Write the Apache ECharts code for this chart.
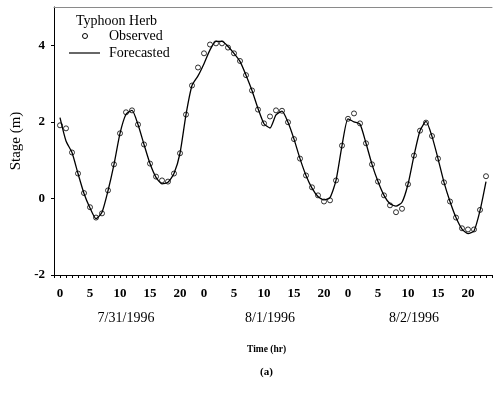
<!DOCTYPE html>
<html>
<head>
<meta charset="utf-8">
<script src="https://cdn.jsdelivr.net/npm/echarts@6/dist/echarts.min.js"></script>
<style>
  html, body { margin: 0; padding: 0; background: #fff; }
  #chart { width: 494px; height: 401px; }
</style>
</head>
<body>
<div id="chart"></div>
<script>
// Hourly stages (m) at the gauge during Typhoon Herb, hour 0 = 0:00 on 7/31/1996
const observed = [
  1.91, 1.83, 1.20, 0.65, 0.14, -0.23, -0.50, -0.39, 0.21, 0.89,
  1.70, 2.25, 2.30, 1.93, 1.41, 0.91, 0.57, 0.47, 0.44, 0.65,
  1.18, 2.19, 2.95, 3.42, 3.79, 4.02, 4.05, 4.05, 3.94, 3.79,
  3.59, 3.22, 2.82, 2.32, 1.96, 2.14, 2.30, 2.29, 1.99, 1.55,
  1.04, 0.60, 0.29, 0.08, -0.08, -0.05, 0.47, 1.38, 2.08, 2.22,
  1.96, 1.44, 0.89, 0.44, 0.08, -0.18, -0.36, -0.27, 0.37, 1.12,
  1.77, 1.98, 1.63, 1.04, 0.42, -0.08, -0.50, -0.78, -0.81, -0.81,
  -0.30, 0.58
];
const forecasted = [
  2.11, 1.50, 1.20, 0.65, 0.13, -0.25, -0.53, -0.36, 0.20, 0.89,
  1.70, 2.20, 2.30, 1.93, 1.41, 0.91, 0.55, 0.38, 0.42, 0.65,
  1.18, 2.19, 2.95, 3.20, 3.52, 3.88, 4.10, 4.10, 3.97, 3.79,
  3.58, 3.22, 2.82, 2.35, 1.95, 1.84, 2.18, 2.28, 1.99, 1.55,
  1.04, 0.60, 0.27, 0.05, -0.04, 0.02, 0.47, 1.38, 2.08, 2.00,
  1.94, 1.44, 0.89, 0.44, 0.08, -0.14, -0.20, -0.10, 0.37, 1.12,
  1.77, 2.01, 1.62, 1.04, 0.42, -0.08, -0.50, -0.80, -0.92, -0.85,
  -0.32, 0.44
];
const dayLabels = ['7/31/1996', '8/1/1996', '8/2/1996'];
const hourTicks = [0, 5, 10, 15, 20];
const stageTicks = [-2, 0, 2, 4];

const FONT = 'Liberation Serif';
const toPairs = arr => arr.map((v, h) => [h, v]);

const chart = echarts.init(document.getElementById('chart'), null, { renderer: 'canvas' });

const baseX = {
  type: 'value', min: -1, max: 72, interval: 1,
  splitLine: { show: false }
};

chart.setOption({
  animation: false,
  backgroundColor: '#fff',
  textStyle: { fontFamily: FONT, color: '#000' },
  legend: { show: false, data: ['Observed', 'Forecasted'] },
  grid: { left: 54, right: 2, top: 7, bottom: 126, containLabel: false, outerBoundsMode: 'none' },
  xAxis: [
    Object.assign({}, baseX, {
      position: 'bottom',
      axisLine: { onZero: false, lineStyle: { color: '#000', width: 1 } },
      axisTick: { show: true, length: 3, lineStyle: { color: '#000' } },
      axisLabel: {
        margin: 12, fontFamily: FONT, fontSize: 13, fontWeight: 'bold', color: '#000',
        formatter: v => (v >= 0 && v < 72 && hourTicks.includes(v % 24)) ? String(v % 24) : ''
      }
    }),
    Object.assign({}, baseX, {
      interval: 12, position: 'bottom', offset: 24,
      axisLine: { show: false, onZero: false }, axisTick: { show: false },
      axisLabel: {
        margin: 12, fontFamily: FONT, fontSize: 14, color: '#000',
        formatter: v => ((v + 1) % 24 === 12) ? dayLabels[(v - 11) / 24] : ''
      }
    }),
    Object.assign({}, baseX, {
      position: 'top',
      axisLine: { onZero: false, lineStyle: { color: '#8a8a8a', width: 1 } },
      axisTick: { show: false }, axisLabel: { show: false }
    })
  ],
  yAxis: {
    type: 'value', min: -2, max: 5, interval: 2,
    name: 'Stage (m)', nameLocation: 'middle', nameGap: 26, nameRotate: 90,
    nameTextStyle: { fontFamily: FONT, fontSize: 15, color: '#000' },
    axisLine: { show: true, onZero: false, lineStyle: { color: '#000', width: 1 } },
    axisTick: { show: true, length: 3, lineStyle: { color: '#000' } },
    axisLabel: {
      margin: 9, fontFamily: FONT, fontSize: 13, fontWeight: 'bold', color: '#000',
      showMaxLabel: false,
      formatter: v => stageTicks.includes(v) ? String(v) : ''
    },
    splitLine: { show: false }
  },
  graphic: [
    // key box: storm name, observed marker, forecast line
    { type: 'text', left: 76, top: 14, style: { text: 'Typhoon Herb', font: '14px "Liberation Serif"', fill: '#000' } },
    { type: 'circle', shape: { cx: 85, cy: 36, r: 2.5 }, style: { fill: 'none', stroke: '#000', lineWidth: 1 } },
    { type: 'text', left: 109, top: 29, style: { text: 'Observed', font: '14px "Liberation Serif"', fill: '#000' } },
    { type: 'line', shape: { x1: 69, y1: 53, x2: 100, y2: 53 }, style: { stroke: '#000', lineWidth: 1.2 } },
    { type: 'text', left: 109, top: 46, style: { text: 'Forecasted', font: '14px "Liberation Serif"', fill: '#000' } },
    // axis caption and panel tag
    { type: 'text', left: 247, top: 345, style: { text: 'Time (hr)', font: 'bold 9.5px "Liberation Serif"', fill: '#000' } },
    { type: 'text', left: 260, top: 367, style: { text: '(a)', font: 'bold 11px "Liberation Serif"', fill: '#000' } }
  ],
  series: [
    {
      name: 'Forecasted', type: 'line', xAxisIndex: 0,
      data: toPairs(forecasted),
      showSymbol: false, symbol: 'none', smooth: 0.2,
      lineStyle: { color: '#000', width: 1.3 },
      itemStyle: { color: '#000' },
      z: 2
    },
    {
      name: 'Observed', type: 'scatter', xAxisIndex: 0,
      data: toPairs(observed),
      symbol: 'circle', symbolSize: 5,
      itemStyle: { color: 'rgba(255,255,255,0)', borderColor: '#000', borderWidth: 1 },
      z: 3
    }
  ]
});
</script>
</body>
</html>
